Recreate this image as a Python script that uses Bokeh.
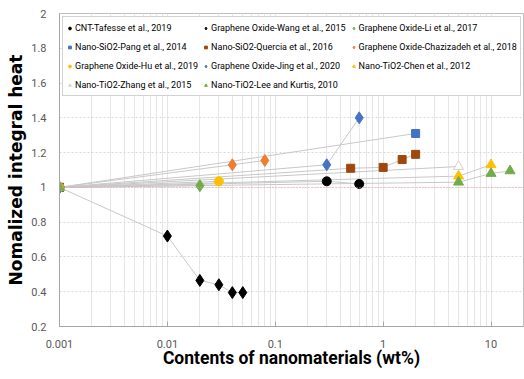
from bokeh.plotting import figure
from bokeh.models import FixedTicker, Span, Legend, LegendItem, Range1d
from bokeh.embed import file_html
from bokeh.resources import INLINE

# ---- data (control point at 0.001 wt% = 1.0) ----
tafesse_x = [0.001, 0.3, 0.6]
tafesse_y = [1.0, 1.035, 1.02]
wang_x = [0.001, 0.01, 0.02, 0.03, 0.04, 0.05]
wang_y = [1.0, 0.72, 0.465, 0.44, 0.395, 0.395]
li_x = [0.001, 0.02]
li_y = [1.0, 1.01]
pang_x = [0.001, 2.0]
pang_y = [1.0, 1.31]
quercia_x = [0.001, 0.5, 1.0, 1.5, 2.0]
quercia_y = [1.0, 1.11, 1.115, 1.16, 1.19]
chazizadeh_x = [0.001, 0.04, 0.08]
chazizadeh_y = [1.0, 1.13, 1.155]
hu_x = [0.001, 0.03]
hu_y = [1.0, 1.035]
jing_x = [0.001, 0.3, 0.6]
jing_y = [1.0, 1.13, 1.40]
chen_x = [0.001, 5.0, 10.0]
chen_y = [1.0, 1.065, 1.13]
zhang_x = [0.001, 5.0]
zhang_y = [1.0, 1.12]
lee_x = [0.001, 5.0, 10.0, 15.0]
lee_y = [1.0, 1.03, 1.08, 1.095]

x_ticks = [0.001, 0.01, 0.1, 1, 10]
x_tick_labels = ["0.001", "0.01", "0.1", "1", "10"]
y_ticks = [0.2, 0.4, 0.6, 0.8, 1, 1.2, 1.4, 1.6, 1.8, 2]
y_tick_labels = ["0.2", "0.4", "0.6", "0.8", "1", "1.2", "1.4", "1.6", "1.8", "2"]

series = [
    ("CNT-Tafesse et al., 2019", tafesse_x, tafesse_y, "circle", "black", "black", 9),
    ("Graphene Oxide-Wang et al., 2015", wang_x, wang_y, "diamond", "black", "black", 12),
    ("Graphene Oxide-Li et al., 2017", li_x, li_y, "diamond", "#70ad47", "#70ad47", 12),
    ("Nano-SiO2-Pang et al., 2014", pang_x, pang_y, "square", "#4472c4", "#4472c4", 8),
    ("Nano-SiO2-Quercia et al., 2016", quercia_x, quercia_y, "square", "#9e480e", "#9e480e", 8),
    ("Graphene Oxide-Chazizadeh et al., 2018", chazizadeh_x, chazizadeh_y, "diamond", "#ed7d31", "#ed7d31", 12),
    ("Graphene Oxide-Hu et al., 2019", hu_x, hu_y, "circle", "#ffc000", "#ffc000", 9),
    ("Graphene Oxide-Jing et al., 2020", jing_x, jing_y, "diamond", "#4472c4", "#4472c4", 12),
    ("Nano-TiO2-Chen et al., 2012", chen_x, chen_y, "triangle", "#ffc000", "#ffc000", 10),
    ("Nano-TiO2-Zhang et al., 2015", zhang_x, zhang_y, "triangle", "white", "#d0d0d0", 10),
    ("Nano-TiO2-Lee and Kurtis, 2010", lee_x, lee_y, "triangle", "#70ad47", "#70ad47", 10),
]

p = figure(width=524, height=379, x_axis_type="log",
           x_range=Range1d(0.001, 20), y_range=Range1d(0.2, 2.0),
           output_backend="svg", toolbar_location=None,
           min_border_left=59, min_border_right=1, min_border_top=13, min_border_bottom=53)

p.outline_line_color = "#bfbfbf"
p.outline_line_width = 1

minor = []
for d in [0.001, 0.01, 0.1, 1, 10]:
    for k in range(2, 10):
        v = d * k
        if v <= 20:
            minor.append(v)
minor.append(20)

p.xaxis.ticker = FixedTicker(ticks=x_ticks, minor_ticks=minor)
p.xaxis.major_label_overrides = {t: l for t, l in zip(x_ticks, x_tick_labels)}
p.yaxis.ticker = FixedTicker(ticks=y_ticks)
p.yaxis.major_label_overrides = {t: l for t, l in zip(y_ticks, y_tick_labels)}

for ax in (p.xaxis, p.yaxis):
    ax.axis_line_color = "#a6a6a6"
    ax.major_label_text_font = "Roboto"
    ax.major_label_text_font_size = "11px"
    ax.major_label_text_color = "#595959"
    ax.minor_tick_line_color = None
p.xaxis.major_tick_in = 5
p.xaxis.major_tick_out = 0
p.xaxis.major_tick_line_color = "#a6a6a6"
p.xaxis.major_label_standoff = 9
p.yaxis.major_tick_line_color = None
p.yaxis.major_label_standoff = 7

p.xaxis.axis_label = "Contents of nanomaterials (wt%)"
p.xaxis.axis_label_text_font = "Roboto"
p.xaxis.axis_label_text_font_style = "bold"
p.xaxis.axis_label_text_font_size = "17.5px"
p.xaxis.axis_label_text_color = "black"
p.xaxis.axis_label_standoff = -3

p.yaxis.axis_label = "Nomalized integral heat"
p.yaxis.axis_label_text_font = "DejaVu Sans"
p.yaxis.axis_label_text_font_style = "bold"
p.yaxis.axis_label_text_font_size = "17px"
p.yaxis.axis_label_text_color = "black"
p.yaxis.axis_label_standoff = 2

p.xgrid.grid_line_color = "#e6e6e6"
p.xgrid.minor_grid_line_color = "#e6e6e6"
p.ygrid.grid_line_color = "#d9d9d9"
p.ygrid.grid_line_dash = "2 2"

p.add_layout(Span(location=1.0, dimension="width", line_color="#e8a0a0",
                  line_dash="1 2", line_width=1))

for name, xs, ys, m, fc, lc, s in series:
    p.line(xs, ys, line_color="#c8c8c8", line_width=1)

items = []
for name, xs, ys, m, fc, lc, s in series:
    r = p.scatter(xs, ys, marker=m, size=s, fill_color=fc, line_color=lc)
    items.append(LegendItem(label=name, renderers=[r]))

legend = Legend(items=items, location="top_left", orientation="horizontal", ncols=3)
legend.margin = 3
legend.padding = 3
legend.spacing = 4
legend.glyph_width = 7
legend.glyph_height = 12
legend.label_standoff = 2
legend.label_height = 15
legend.label_text_font = "Roboto"
legend.label_text_font_size = "9px"
legend.label_text_color = "black"
legend.border_line_color = "#a6a6a6"
legend.background_fill_alpha = 1
p.add_layout(legend)

open("out.html", "w").write(file_html(p, INLINE))
